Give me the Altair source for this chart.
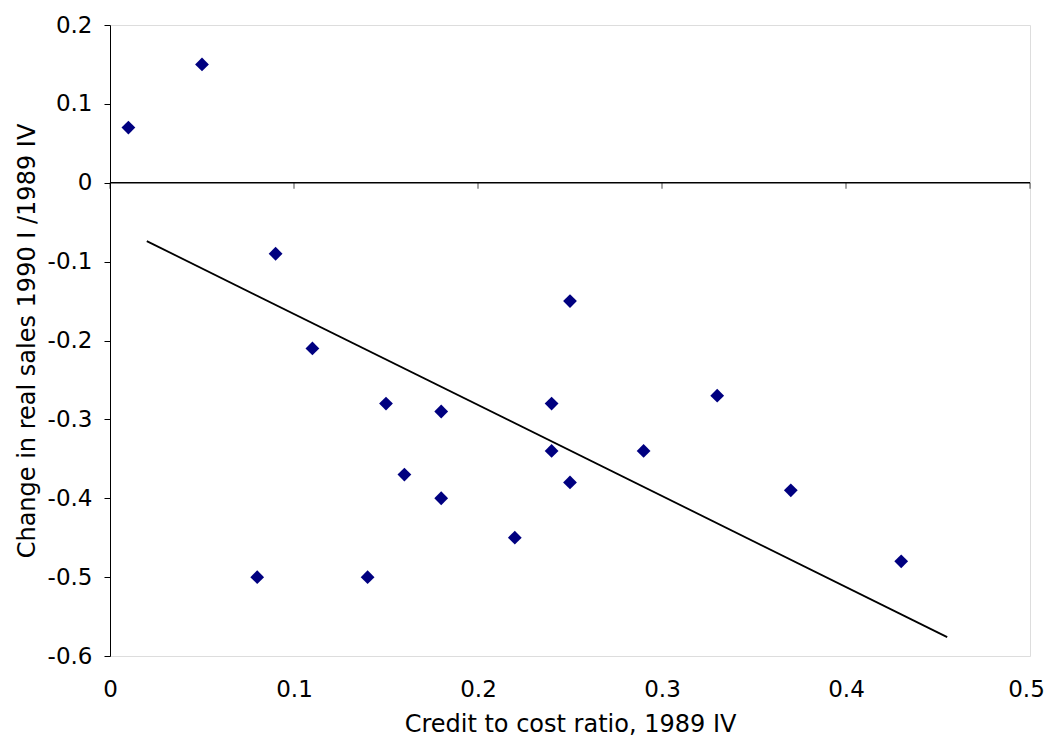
import altair as alt
import pandas as pd

credit_ratio = [0.01, 0.05, 0.09, 0.11, 0.08, 0.14, 0.15, 0.16, 0.18, 0.18,
                0.22, 0.24, 0.24, 0.25, 0.25, 0.29, 0.33, 0.37, 0.43]
sales_change = [0.07, 0.15, -0.09, -0.21, -0.50, -0.50, -0.28, -0.37, -0.29, -0.40,
                -0.45, -0.28, -0.34, -0.15, -0.38, -0.34, -0.27, -0.39, -0.48]
trend_x = [0.02, 0.455]
trend_y = [-0.074, -0.576]
x_ticks = [0, 0.1, 0.2, 0.3, 0.4, 0.5]
y_ticks = [0.2, 0.1, 0, -0.1, -0.2, -0.3, -0.4, -0.5, -0.6]

FONT = "DejaVu Sans"
pts = pd.DataFrame({"x": credit_ratio, "y": sales_change})
trend = pd.DataFrame({"x": trend_x, "y": trend_y})
ticks = pd.DataFrame({"x": x_ticks, "y": [0] * len(x_ticks)})
zero = pd.DataFrame({"x": [0], "x2": [0.5], "y": [0]})

xscale = alt.Scale(domain=[0, 0.5], nice=False, zero=False)
yscale = alt.Scale(domain=[-0.6, 0.2], nice=False, zero=False)

xaxis = alt.Axis(values=x_ticks, labelExpr="'' + datum.value", domain=False, ticks=False,
                 grid=False, labelFlush=False, labelPadding=22, labelFontSize=23,
                 labelOffset={"condition": {"test": "datum.value >= 0.5", "value": -4},
                              "value": 0},
                 labelFont=FONT, labelColor="black",
                 title="Credit to cost ratio, 1989 IV", titleFont=FONT, titleFontSize=24,
                 titleFontWeight="normal", titleColor="black", titlePadding=11)
yaxis = alt.Axis(values=y_ticks, labelExpr="'' + datum.value", domain=True,
                 domainColor="black", domainWidth=1, labelFlush=False,
                 ticks=True, tickSize=6, tickColor="black", grid=False,
                 labelPadding=12, labelFontSize=23, labelFont=FONT, labelColor="black",
                 title="Change in real sales 1990 I /1989 IV", titleFont=FONT, titleFontSize=24,
                 titleFontWeight="normal", titleColor="black", titlePadding=8)

zero_line = alt.Chart(zero).mark_rule(color="black", strokeWidth=1.5).encode(
    x=alt.X("x:Q", scale=xscale, axis=xaxis), x2="x2:Q",
    y=alt.Y("y:Q", scale=yscale, axis=yaxis))

tick_marks = alt.Chart(ticks).mark_tick(color="black", orient="vertical", size=6,
                                        thickness=1, yOffset=3).encode(
    x=alt.X("x:Q", scale=xscale), y=alt.Y("y:Q", scale=yscale))

trend_line = alt.Chart(trend).mark_line(color="black", strokeWidth=1.8).encode(
    x=alt.X("x:Q", scale=xscale), y=alt.Y("y:Q", scale=yscale))

points = alt.Chart(pts).mark_point(shape="diamond", filled=True, color="#000080",
                                   size=190, opacity=1).encode(
    x=alt.X("x:Q", scale=xscale), y=alt.Y("y:Q", scale=yscale))

chart = alt.layer(zero_line, tick_marks, trend_line, points).properties(
    width=920, height=631,
    autosize=alt.AutoSizeParams(type="none"),
    padding={"left": 102, "top": 17, "right": 15, "bottom": 80},
).configure_view(stroke=None).configure_axis(grid=False).configure(background="white")

chart.save("out.html", embed_options={"renderer": "svg", "actions": False})
